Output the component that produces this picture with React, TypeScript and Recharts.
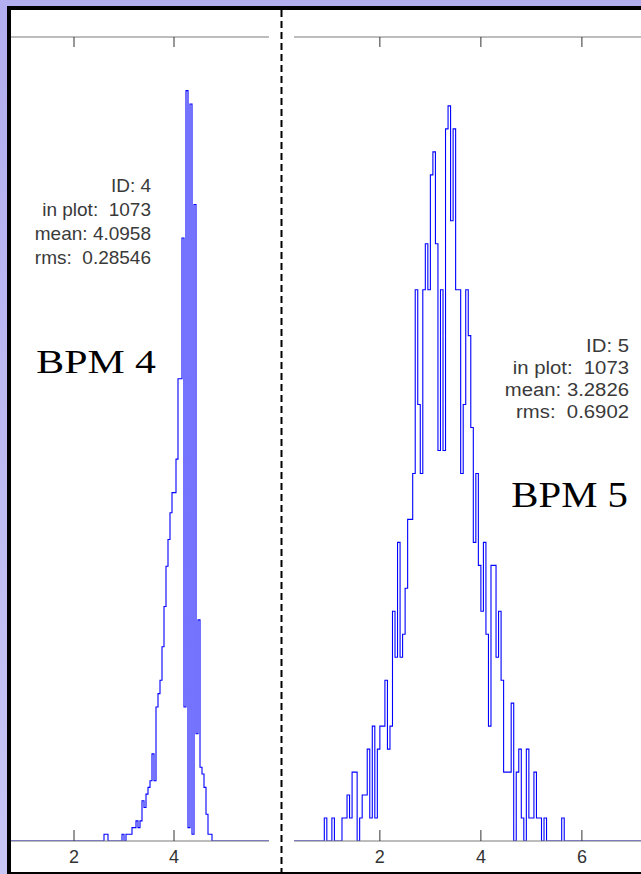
import { LineChart, Line, XAxis, YAxis } from "recharts";

// BPM 4 histogram: counts per bin, bins start at bpm4Start, width bpm4Width
const bpm4Start = 2.56;
const bpm4Width = 0.04;
const bpm4Counts = [
  0, 1, 1, 0, 0, 0, 0, 0, 0, 0,
  1, 0, 1, 1, 1, 2, 2, 3, 2, 3,
  6, 5, 7, 8, 9, 13, 9, 20, 22, 24,
  29, 35, 41, 45, 49, 52, 52, 57, 69, 69,
  90, 20, 112, 2, 110, 1, 95, 16, 33, 11,
  10, 8, 4, 1, 1, 0,
];

// BPM 5 histogram
const bpm5Start = 0.85;
const bpm5Width = 0.05;
const bpm5Counts = [
  0, 1, 0, 0, 1, 0, 0, 0, 1, 1,
  2, 1, 3, 3, 0, 1, 2, 2, 4, 1,
  5, 1, 4, 5, 5, 7, 4, 5, 10, 8,
  13, 8, 9, 11, 14, 14, 16, 24, 19, 16,
  24, 26, 24, 29, 30, 26, 17, 24, 17, 31,
  32, 27, 31, 24, 24, 16, 19, 24, 22, 18,
  13, 16, 12, 10, 13, 9, 5, 12, 12, 8,
  10, 7, 3, 3, 3, 6, 0, 3, 4, 1,
  0, 4, 1, 1, 3, 1, 1, 0, 1, 0,
  0, 0, 0, 0, 0, 1, 0,
];

const bpm4Domain = [0.74, 5.9];
const bpm5Domain = [0.3, 7.17];
const bpm4Ticks = [2, 4];
const bpm5Ticks = [2, 4, 6];

const bpm4Stats = ["ID: 4", "in plot:  1073", "mean: 4.0958", "rms:  0.28546"];
const bpm5Stats = ["ID: 5", "in plot:  1073", "mean: 3.2826", "rms:  0.6902"];

const toSteps = (start: number, width: number, counts: number[], domain: number[]) => {
  const rows = [{ x: domain[0], n: 0 }];
  counts.forEach((n, i) => rows.push({ x: +(start + i * width).toFixed(3), n }));
  rows.push({ x: +(start + counts.length * width).toFixed(3), n: 0 });
  rows.push({ x: domain[1], n: 0 });
  return rows;
};

const BottomTick = (props: any) => {
  const { x, y, payload } = props;
  return (
    <g>
      <line x1={x} y1={y} x2={x} y2={y - 11} stroke="#333" strokeWidth={1} />
      <text
        x={x}
        y={y + 22}
        textAnchor="middle"
        fontSize={18}
        fontFamily="Liberation Sans, Arial, sans-serif"
        fill="#333"
      >
        {payload.value}
      </text>
    </g>
  );
};

const TopTick = (props: any) => {
  const { x, y } = props;
  return <line x1={x} y1={y} x2={x} y2={y + 10} stroke="#333" strokeWidth={1} />;
};

const Hist = ({
  data,
  domain,
  ticks,
  ymax,
  width,
}: {
  data: { x: number; n: number }[];
  domain: number[];
  ticks: number[];
  ymax: number;
  width: number;
}) => (
  <LineChart
    width={width}
    height={874}
    data={data}
    margin={{ top: 36, right: 0, bottom: 0, left: 0 }}
  >
    <XAxis
      xAxisId="top"
      orientation="top"
      dataKey="x"
      type="number"
      domain={domain}
      allowDataOverflow
      ticks={ticks}
      interval={0}
      height={1}
      tickSize={0}
      tickMargin={0}
      tick={TopTick}
      axisLine={{ stroke: "#7a7a7a" }}
    />
    <XAxis
      dataKey="x"
      type="number"
      domain={domain}
      allowDataOverflow
      ticks={ticks}
      interval={0}
      height={33}
      tickSize={0}
      tickMargin={0}
      tick={BottomTick}
      axisLine={{ stroke: "#7a7a7a" }}
    />
    <YAxis hide type="number" domain={[0, ymax]} allowDataOverflow />
    <Line
      type="stepAfter"
      dataKey="n"
      stroke="#0000ff"
      strokeWidth={1.1}
      dot={false}
      activeDot={false}
      isAnimationActive={false}
    />
  </LineChart>
);

const statFont = "Liberation Sans, Arial, sans-serif";
const serifFont = "Liberation Serif, Times New Roman, serif";

export default function App() {
  const left = toSteps(bpm4Start, bpm4Width, bpm4Counts, bpm4Domain);
  const right = toSteps(bpm5Start, bpm5Width, bpm5Counts, bpm5Domain);

  return (
    <div
      style={{
        position: "absolute",
        left: 0,
        top: 0,
        width: 641,
        height: 874,
        overflow: "hidden",
        background: "linear-gradient(180deg, #b2aef0 0%, #c8c6f5 100%)",
      }}
    >
      <div
        style={{
          position: "absolute",
          left: 7,
          top: 6,
          width: 700,
          height: 870,
          boxSizing: "border-box",
          background: "#fff",
          borderTop: "4px solid #000",
          borderLeft: "4px solid #000",
          borderBottom: "4px solid #000",
        }}
      />
      <div style={{ position: "absolute", left: 11, top: 0 }}>
        <Hist data={left} domain={bpm4Domain} ticks={bpm4Ticks} ymax={120} width={258} />
      </div>
      <div style={{ position: "absolute", left: 294, top: 0 }}>
        <Hist data={right} domain={bpm5Domain} ticks={bpm5Ticks} ymax={35} width={347} />
      </div>
      <svg
        width={641}
        height={874}
        style={{ position: "absolute", left: 0, top: 0, pointerEvents: "none" }}
      >
        <line x1={281.5} y1={10} x2={281.5} y2={874} stroke="#000" strokeWidth={2} strokeDasharray="7 4" />
        {bpm4Stats.map((s, i) => (
          <text
            key={s}
            transform={`translate(151, ${192 + i * 24}) scale(1.0, 1)`}
            textAnchor="end"
            fontSize={19}
            fontFamily={statFont}
            fill="#3a3a3a"
            style={{ whiteSpace: "pre" }}
          >
            {s}
          </text>
        ))}
        {bpm5Stats.map((s, i) => (
          <text
            key={s}
            transform={`translate(629, ${352 + i * 22}) scale(1.07, 1)`}
            textAnchor="end"
            fontSize={19}
            fontFamily={statFont}
            fill="#3a3a3a"
            style={{ whiteSpace: "pre" }}
          >
            {s}
          </text>
        ))}
        <text
          transform="translate(156, 373) scale(1.23, 1)"
          textAnchor="end"
          fontSize={34}
          fontFamily={serifFont}
          fill="#000"
        >
          BPM 4
        </text>
        <text
          transform="translate(628, 507) scale(1.165, 1)"
          textAnchor="end"
          fontSize={35}
          fontFamily={serifFont}
          fill="#000"
        >
          BPM 5
        </text>
      </svg>
    </div>
  );
}
